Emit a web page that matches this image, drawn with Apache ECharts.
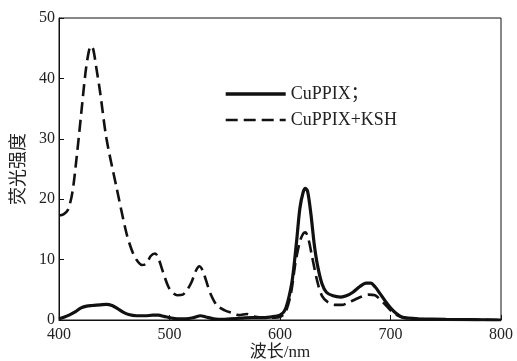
<!DOCTYPE html>
<html>
<head>
<meta charset="utf-8">
<script src="https://cdn.jsdelivr.net/npm/echarts@6/dist/echarts.min.js"></script>
<style>
  html, body { margin: 0; padding: 0; background: #fff; }
  #chart { width: 517px; height: 361px; }
</style>
</head>
<body>
<div id="chart"></div>
<script>
// CuPPIX (solid)
const cuWl = [400, 405, 410, 415, 420, 425, 430, 437, 443, 448, 453, 458, 463, 470, 478, 485, 490, 495, 500, 507, 515, 522, 528, 533, 540, 548, 555, 565, 575, 585, 595, 600, 604, 607, 611, 615, 618, 621, 623, 625, 628, 631, 634, 638, 642, 648, 655, 660, 666, 672, 678, 682, 686, 690, 695, 700, 705, 710, 716, 725, 750, 800];
const cuVal = [0.2, 0.5, 0.9, 1.4, 2.0, 2.3, 2.4, 2.5, 2.6, 2.4, 1.9, 1.3, 0.9, 0.7, 0.7, 0.8, 0.8, 0.6, 0.4, 0.2, 0.2, 0.4, 0.7, 0.5, 0.2, 0.1, 0.2, 0.3, 0.4, 0.4, 0.6, 0.8, 1.5, 3.0, 6.5, 13, 18.5, 21.2, 21.8, 21.3, 17.5, 12.5, 9, 6, 4.6, 4.0, 3.8, 4.0, 4.6, 5.5, 6.1, 6.1, 5.5, 4.5, 3.2, 2.0, 1.1, 0.5, 0.3, 0.2, 0.1, 0];

// CuPPIX+KSH (dashed)
const kshWl = [400, 404, 408, 412, 416, 420, 424, 427, 429, 431, 434, 437, 443, 452, 461, 466, 470, 475, 479, 483, 487, 490, 494, 499, 503, 507, 512, 516, 520, 524, 527, 530, 533, 537, 543, 550, 558, 563, 570, 576, 585, 595, 600, 605, 610, 614, 618, 621, 623, 626, 629, 634, 638, 643, 650, 656, 662, 668, 674, 680, 686, 690, 695, 700, 705, 710, 720, 740, 760, 800];
const kshVal = [17.3, 17.5, 18.2, 21, 27, 34, 41, 44.5, 45.4, 44.8, 41.5, 38, 30, 22, 14.4, 11.5, 10, 9.1, 9.3, 10.6, 11.0, 10.2, 8.0, 5.5, 4.5, 4.1, 4.2, 5.0, 6.3, 8.2, 8.9, 8.2, 6.6, 4.4, 2.4, 1.6, 1.1, 0.8, 1.0, 0.6, 0.4, 0.4, 0.5, 1.3, 4.5, 9.5, 13, 14.3, 14.5, 13.2, 10.5, 6.2, 4.0, 3.0, 2.5, 2.5, 2.9, 3.4, 3.9, 4.2, 4.1, 3.5, 2.6, 1.6, 0.9, 0.5, 0.2, 0.1, 0.05, 0];

const seriesNames = ['CuPPIX；', 'CuPPIX+KSH'];
const xTicks = [400, 500, 600, 700, 800];
const yTicks = [0, 10, 20, 30, 40, 50];

const pairs = (xs, ys) => xs.map((x, i) => [x, ys[i]]);
const FONT = 'Liberation Serif, Noto Sans CJK SC, serif';
const INK = '#111';

const chart = echarts.init(document.getElementById('chart'));
chart.setOption({
  backgroundColor: '#fff',
  animation: false,
  textStyle: { fontFamily: FONT },
  grid: {
    left: 59, right: 16, top: 18, bottom: 41,
    outerBoundsMode: 'none',
    show: true, borderColor: INK, borderWidth: 1
  },
  legend: {
    orient: 'vertical',
    left: 219,
    top: 80,
    itemWidth: 60,
    itemHeight: 14,
    itemGap: 8,
    // hide the round marker, keep only the line sample
    itemStyle: { color: 'rgba(0,0,0,0)', borderColor: 'rgba(0,0,0,0)', borderWidth: 0 },
    textStyle: { fontFamily: FONT, fontSize: 18, color: '#222' },
    data: [
      { name: seriesNames[0], lineStyle: { width: 3.4 } },
      { name: seriesNames[1], lineStyle: { width: 2.6 } }
    ]
  },
  xAxis: {
    type: 'value',
    min: xTicks[0],
    max: xTicks[xTicks.length - 1],
    interval: 100,
    name: '波长/nm',
    nameLocation: 'middle',
    nameGap: 24,
    nameMoveOverlap: false,
    nameTextStyle: { fontFamily: FONT, fontSize: 17, color: '#222' },
    axisLine: { lineStyle: { color: INK, width: 1 } },
    axisTick: { inside: true, length: 5, lineStyle: { color: INK } },
    axisLabel: { fontSize: 16, color: '#222', margin: 7, fontFamily: FONT },
    splitLine: { show: false }
  },
  yAxis: {
    type: 'value',
    min: yTicks[0],
    max: yTicks[yTicks.length - 1],
    interval: 10,
    name: '荧光强度',
    nameLocation: 'middle',
    nameRotate: 90,
    nameGap: 31,
    nameMoveOverlap: false,
    nameTextStyle: { fontFamily: FONT, fontSize: 18, color: '#222' },
    axisLine: { show: true, lineStyle: { color: INK, width: 1 } },
    axisTick: { show: true, inside: true, length: 5, lineStyle: { color: INK } },
    axisLabel: { fontSize: 16, color: '#222', margin: 4, fontFamily: FONT },
    splitLine: { show: false }
  },
  series: [
    {
      name: seriesNames[0],
      type: 'line',
      symbol: 'none',
      smooth: 0.3,
      data: pairs(cuWl, cuVal),
      lineStyle: { color: INK, width: 3.2 },
      itemStyle: { color: INK }
    },
    {
      name: seriesNames[1],
      type: 'line',
      symbol: 'none',
      smooth: 0.3,
      data: pairs(kshWl, kshVal),
      lineStyle: { color: INK, width: 2.6, type: [12, 6] },
      itemStyle: { color: INK }
    }
  ]
});
</script>
</body>
</html>
